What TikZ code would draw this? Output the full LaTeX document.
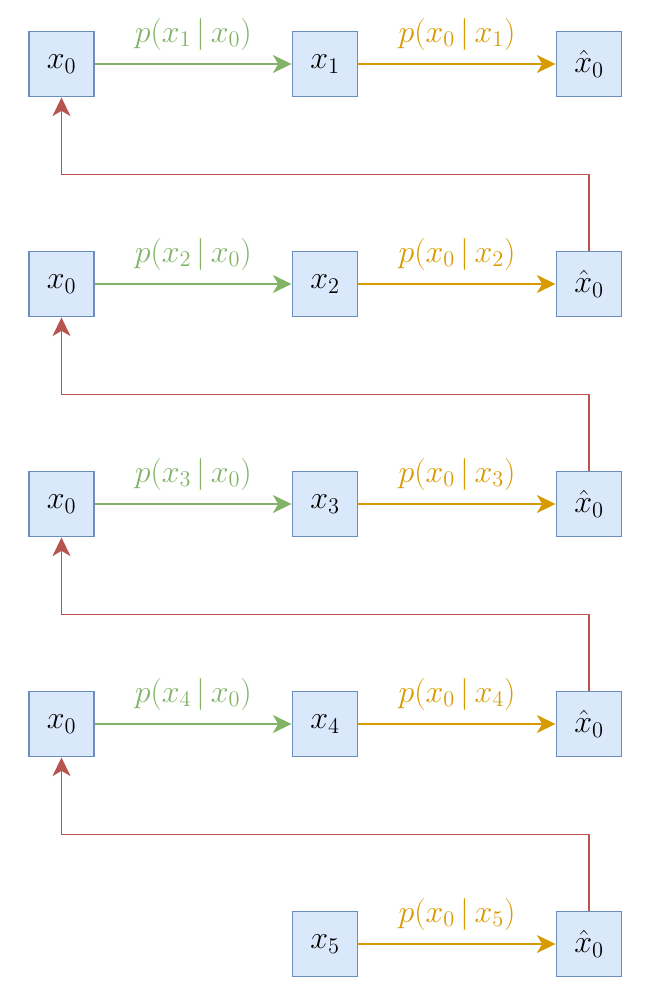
\documentclass[tikz,border=0pt]{standalone}
\usepackage{fix-cm}
\usetikzlibrary{arrows.meta}
\definecolor{boxfill}{HTML}{DAE8FC}
\definecolor{boxdraw}{HTML}{6C8EBF}
\definecolor{fgreen}{HTML}{82B366}
\definecolor{forange}{HTML}{D79B00}
\definecolor{fred}{HTML}{B85450}
\begin{document}
\begin{tikzpicture}[x=0.75pt,y=-0.75pt,
  vbox/.style={draw=boxdraw,fill=boxfill,line width=1.2pt,minimum width=49pt,minimum height=49pt,inner sep=0pt,font=\fontsize{24}{28}\selectfont},
  arr/.style={line width=1.3pt,-{Stealth[length=14pt,width=13.5pt,inset=4pt]}},
  fwd/.style={arr,draw=fgreen},
  bwd/.style={arr,draw=forange},
  back/.style={arr,draw=fred},
  lbl/.style={midway,anchor=base,yshift=16.5pt,font=\fontsize{24}{28}\selectfont}
]
\useasboundingbox (0,0) rectangle (652,1000);
\foreach \r in {0,1,2,3}{
  \pgfmathtruncatemacro{\k}{\r+1}
  \pgfmathsetmacro{\yy}{64+220*\r}
  \node[vbox] (a\r) at (61.5,\yy) {$x_0$};
  \node[vbox] (b\r) at (325,\yy) {$x_{\k}$};
  \node[vbox] (c\r) at (589,\yy) {$\hat{x}_0$};
  \draw[fwd] (a\r) -- node[lbl,text=fgreen] {$p(x_{\k}\,|\,x_0)$} (b\r);
  \draw[bwd] (b\r) -- node[lbl,text=forange] {$p(x_0\,|\,x_{\k})$} (c\r);
}
\node[vbox] (b4) at (325,944) {$x_5$};
\node[vbox] (c4) at (589,944) {$\hat{x}_0$};
\draw[bwd] (b4) -- node[lbl,text=forange] {$p(x_0\,|\,x_5)$} (c4);
\draw[back] (c1.north) -- ++(0,-76) -| (a0.south);
\draw[back] (c2.north) -- ++(0,-76) -| (a1.south);
\draw[back] (c3.north) -- ++(0,-76) -| (a2.south);
\draw[back] (c4.north) -- ++(0,-76) -| (a3.south);
\end{tikzpicture}
\end{document}
